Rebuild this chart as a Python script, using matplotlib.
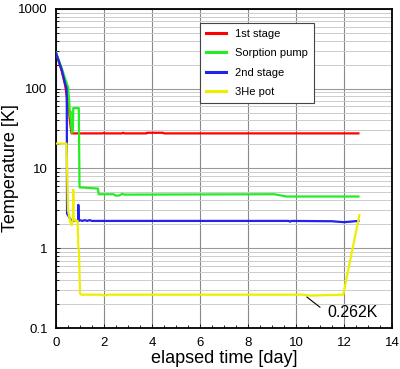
import numpy as np
import matplotlib
matplotlib.use('Agg')
import matplotlib.pyplot as plt
from matplotlib.ticker import LogLocator, MultipleLocator, FixedLocator, NullFormatter

plt.rcParams['font.family'] = ['Liberation Sans', 'DejaVu Sans']

# 1st stage
t_1st = [0, 0.12, 0.24, 0.375, 0.5, 0.6, 0.65, 1.95, 2.0, 2.05, 2.75, 2.8, 2.85, 3.78, 3.8, 4.45, 4.5, 12.6]
T_1st = [280, 215, 165, 112, 65, 35, 27.5, 27.5, 28.0, 27.5, 27.5, 28.0, 27.5, 27.5, 28.0, 28.0, 27.5, 27.5]

# Sorption pump
t_sorb = [0, 0.12, 0.24, 0.375, 0.5, 0.55, 0.58, 0.6, 0.63, 0.67, 0.7, 0.72, 0.95, 0.98, 1.75, 1.78,
          2.4, 2.5, 2.65, 2.75, 2.85, 9.1, 9.6, 12.6]
T_sorb = [285, 225, 180, 135, 105, 70, 45, 52, 35, 28, 30, 57, 57, 5.8, 5.6, 4.75,
          4.75, 4.55, 4.6, 4.8, 4.7, 4.75, 4.45, 4.45]

# 2nd stage
t_2nd = [0, 0.12, 0.24, 0.375, 0.44, 0.45, 0.46, 0.5, 0.6, 0.7, 0.92, 0.93, 0.95, 1.0, 1.1, 1.2, 1.3,
         1.4, 1.5, 9.7, 9.75, 9.8, 11.5, 12.0, 12.6]
T_2nd = [280, 220, 172, 117, 100, 60, 2.7, 2.6, 2.3, 2.2, 2.2, 3.5, 2.2, 2.25, 2.2, 2.25, 2.2,
         2.25, 2.2, 2.2, 2.15, 2.2, 2.18, 2.12, 2.2]

# 3He pot
t_he3 = [0, 0.44, 0.46, 0.5, 0.55, 0.62, 0.66, 0.7, 0.72, 0.74, 0.8, 0.9, 0.93, 0.96, 1.0, 1.05,
         1.9, 2.0, 2.2, 10.3, 10.6, 11.97, 12.64]
T_he3 = [20.5, 20.5, 10, 3.0, 2.5, 2.0, 1.95, 2.3, 5.4, 2.4, 2.2, 2.2, 1.05, 0.88, 0.27, 0.262,
         0.262, 0.255, 0.262, 0.262, 0.255, 0.262, 2.6]

series = [
    (t_1st, T_1st, '#ff0000', '1st stage'),
    (t_sorb, T_sorb, '#22ee22', 'Sorption pump'),
    (t_2nd, T_2nd, '#2222ee', '2nd stage'),
    (t_he3, T_he3, '#eeee00', '3He pot'),
]

fig = plt.figure(figsize=(4.0, 3.69), dpi=100)
ax = fig.add_axes([0.14, 0.111, 0.84, 0.865])

for t, T, c, lab in series:
    ax.plot(t, T, color=c, lw=1.6, label=lab, zorder=3)

ax.set_yscale('log')
ax.set_xlim(0, 14)
ax.set_ylim(0.1, 1000)
ax.xaxis.set_major_locator(MultipleLocator(2))
ax.xaxis.set_minor_locator(MultipleLocator(0.5))
ax.yaxis.set_major_locator(FixedLocator([0.1, 1, 10, 100, 1000]))
ax.set_yticklabels(['0.1', '1', '10', '100', '1000'])
ax.yaxis.set_minor_locator(LogLocator(base=10, subs=np.arange(2, 10)))
ax.yaxis.set_minor_formatter(NullFormatter())

ax.grid(True, which='major', axis='x', color='#888888', lw=0.8)
ax.grid(True, which='major', axis='y', color='#999999', lw=0.8)
ax.grid(True, which='minor', axis='y', color='#cccccc', lw=0.7)
ax.tick_params(which='both', direction='in', labelsize=9.5, width=0.6)
ax.tick_params(which='major', length=3)
ax.tick_params(which='minor', length=2.5)
ax.tick_params(axis='x', which='major', pad=6.5)
ax.tick_params(axis='y', which='major', pad=6)
for s in ax.spines.values():
    s.set_linewidth(1.3)

ax.set_xlabel('elapsed time [day]', fontsize=13, labelpad=1)
ax.set_ylabel('Temperature [K]', fontsize=13, labelpad=-1)

ax.annotate('0.262K', xy=(10.45, 0.245), xytext=(11.3, 0.155), fontsize=11.5,
            va='center', ha='left',
            arrowprops=dict(arrowstyle='-', color='black', lw=0.8,
                            shrinkA=4, shrinkB=0, relpos=(0, 0.5)))

leg = ax.legend(loc='upper left', bbox_to_anchor=(0.429, 0.957), fontsize=8,
                fancybox=False, framealpha=1, edgecolor='#444444',
                handlelength=1.8, handletextpad=0.8, labelspacing=0.85,
                borderpad=0.55, borderaxespad=0)
leg.get_frame().set_linewidth(0.8)
for line in leg.get_lines():
    line.set_linewidth(2.2)

fig.savefig('out.png', dpi=100)
